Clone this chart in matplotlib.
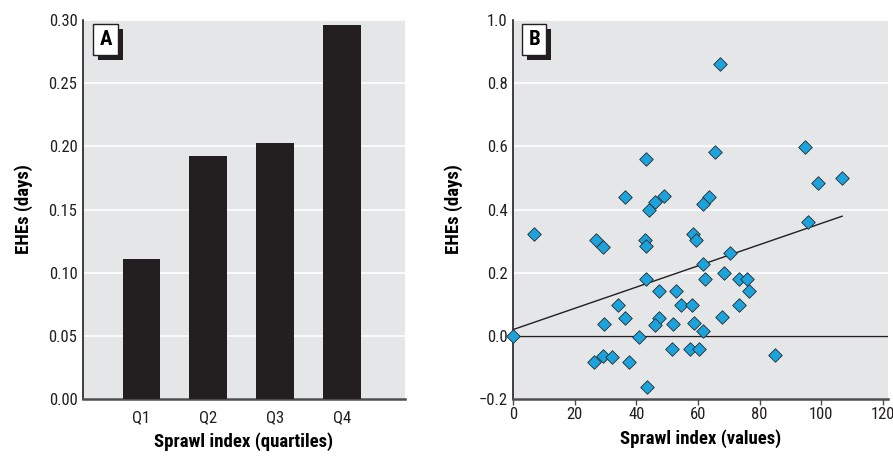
import numpy as np
import matplotlib
matplotlib.use("Agg")
import matplotlib.pyplot as plt
from matplotlib import patheffects

plt.rcParams["font.family"] = ["Roboto Condensed", "Archivo Narrow", "PT Sans Narrow",
                               "Liberation Sans Narrow", "DejaVu Sans"]

# Panel A: mean EHEs by sprawl quartile
quartiles = ["Q1", "Q2", "Q3", "Q4"]
quartile_ehes = [0.111, 0.192, 0.203, 0.296]

# Panel B: per-area sprawl index vs EHEs
sprawl_values = [67.1, 94.9, 43.1, 65.4, 106.8, 99.1, 36.3, 48.9, 46.0, 44.2,
                 63.5, 61.6, 95.7, 6.7, 27.0, 29.2, 42.7, 43.0, 58.4, 59.4,
                 70.4, 61.5, 68.4, 62.4, 43.2, 73.3, 75.8, 76.4, 47.4, 52.8,
                 34.0, 54.4, 58.1, 73.4, 36.4, 47.4, 67.8, 29.5, 46.1, 51.9,
                 58.8, 61.6, 0.0, 40.9, 51.5, 57.3, 60.4, 85.0, 29.1, 32.2,
                 26.3, 37.7, 43.4]
ehe_values = [0.861, 0.598, 0.561, 0.581, 0.501, 0.483, 0.441, 0.442, 0.424, 0.400,
              0.441, 0.418, 0.362, 0.323, 0.302, 0.282, 0.302, 0.283, 0.322, 0.303,
              0.263, 0.227, 0.200, 0.181, 0.181, 0.179, 0.180, 0.141, 0.141, 0.141,
              0.099, 0.099, 0.099, 0.098, 0.057, 0.058, 0.060, 0.039, 0.034, 0.037,
              0.040, 0.015, 0.0, -0.003, -0.042, -0.042, -0.042, -0.062, -0.063, -0.067,
              -0.083, -0.082, -0.161]

# fitted regression line
fit_intercept = 0.020
fit_slope = 0.00336

bg = "#e5e6e8"
bar_color = "#231f20"
marker_color = "#1aa3dd"

fig = plt.figure(figsize=(8.93, 4.57), dpi=100)
axA = fig.add_axes([0.093, 0.127, 0.3605, 0.829])
axB = fig.add_axes([0.5748, 0.127, 0.4196, 0.829])


def style_axes(ax):
    ax.set_facecolor(bg)
    for s in ["top", "right"]:
        ax.spines[s].set_visible(False)
    ax.spines["left"].set_color("#231f20")
    ax.spines["left"].set_linewidth(1.2)
    ax.spines["bottom"].set_color("#4d4d4f")
    ax.spines["bottom"].set_linewidth(1.8)
    ax.grid(True, axis="y", color="white", linewidth=1.2)
    ax.set_axisbelow(True)
    ax.tick_params(axis="y", length=0, labelsize=12, pad=4, colors="#231f20")
    ax.set_ylabel("EHEs (days)", fontsize=13.5, fontweight="bold", labelpad=11)


def panel_letter(ax, letter, x, y):
    t = ax.text(x, y, letter, transform=ax.transAxes, fontsize=15, fontweight="bold",
                color="black", ha="center", va="center", zorder=5,
                bbox=dict(boxstyle="square,pad=0.3", fc="white", ec="#231f20", lw=1.0))
    t.get_bbox_patch().set_path_effects([
        patheffects.SimplePatchShadow(offset=(3.5, -3.5), shadow_rgbFace=bar_color, alpha=1.0),
        patheffects.Normal()])


# Panel A
style_axes(axA)
pos = np.arange(1, len(quartiles) + 1)
axA.bar(pos, quartile_ehes, width=0.56, color=bar_color, zorder=3)
axA.set_xlim(0.13, 4.94)
axA.set_ylim(0, 0.30)
axA.set_yticks(np.arange(0, 0.301, 0.05))
axA.set_yticklabels([f"{v:.2f}" for v in np.arange(0, 0.301, 0.05)])
axA.set_xticks(pos)
axA.set_xticklabels(quartiles)
axA.tick_params(axis="x", length=0, labelsize=12, pad=8, colors="#231f20")
axA.set_xlabel("Sprawl index (quartiles)", fontsize=13.5, fontweight="bold", labelpad=5)
panel_letter(axA, "A", 0.071, 0.949)

# Panel B
style_axes(axB)
axB.scatter(sprawl_values, ehe_values, marker="D", s=48, color=marker_color,
            edgecolor="#2a2a2a", linewidth=0.6, zorder=4, clip_on=False)
xfit = np.array([0, max(sprawl_values)])
axB.plot(xfit, fit_intercept + fit_slope * xfit, color="#231f20", lw=1.0, zorder=3)
axB.axhline(0, color="#231f20", lw=1.0, zorder=2)
axB.set_xlim(0, 121.7)
axB.set_ylim(-0.2, 1.0)
axB.set_yticks([-0.2, 0.0, 0.2, 0.4, 0.6, 0.8, 1.0])
axB.set_yticklabels(["\u22120.2", "0.0", "0.2", "0.4", "0.6", "0.8", "1.0"])
axB.set_xticks(np.arange(0, 121, 20))
axB.tick_params(axis="x", length=4, width=1, color="#4d4d4f", labelsize=12, pad=2,
                labelcolor="#231f20")
axB.set_xlabel("Sprawl index (values)", fontsize=13.5, fontweight="bold", labelpad=5)
panel_letter(axB, "B", 0.056, 0.949)

fig.savefig("out.png", dpi=100)
